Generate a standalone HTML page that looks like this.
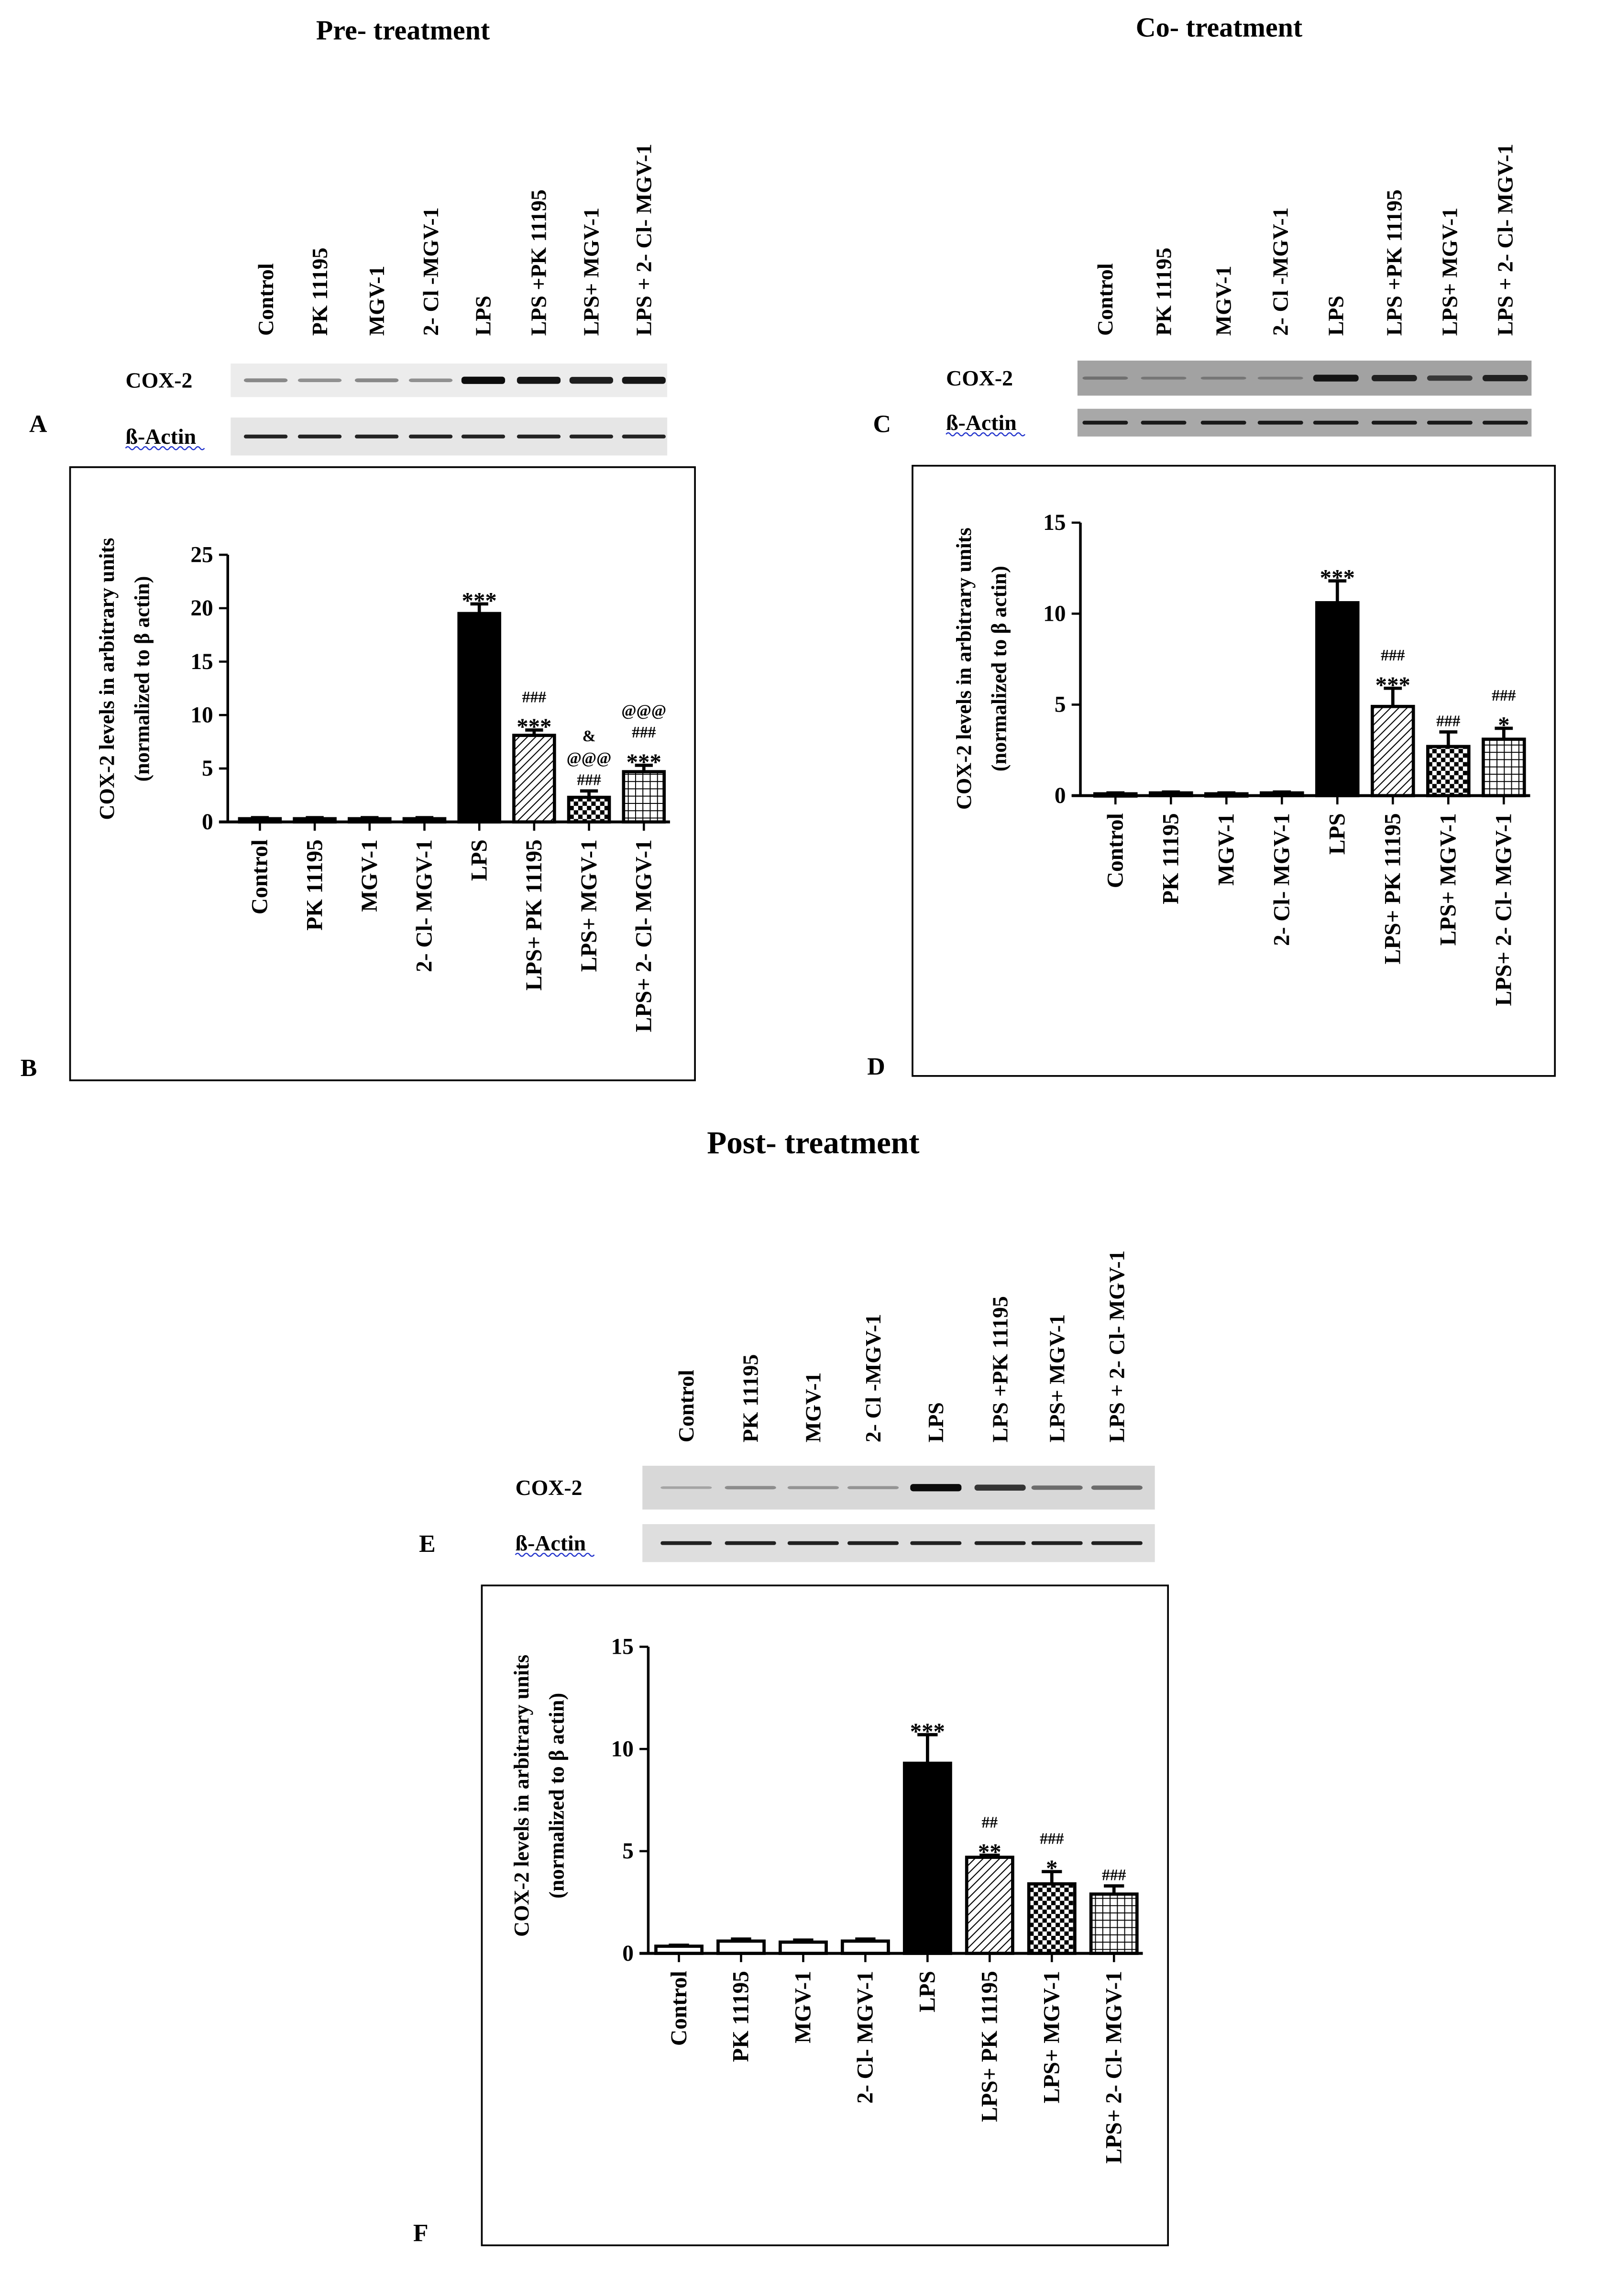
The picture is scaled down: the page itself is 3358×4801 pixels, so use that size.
<!DOCTYPE html>
<html><head><meta charset="utf-8"><style>
html,body{margin:0;padding:0;background:#fff;}
svg{display:block;font-family:"Liberation Serif",serif;font-weight:bold;}
</style></head><body>
<svg id="fig" width="3358" height="4801" viewBox="0 0 1100 1572.7" xmlns="http://www.w3.org/2000/svg">
<defs>
<pattern id="diag" width="4" height="4" patternUnits="userSpaceOnUse" patternTransform="rotate(45)"><rect width="4" height="4" fill="#fff"/><line x1="0" y1="0" x2="0" y2="4" stroke="#000" stroke-width="1.4"/></pattern>
<pattern id="check" width="6" height="6" patternUnits="userSpaceOnUse"><rect width="6" height="6" fill="#fff"/><rect width="3" height="3" fill="#000"/><rect x="3" y="3" width="3" height="3" fill="#000"/></pattern>
<pattern id="grid" width="5" height="5" patternUnits="userSpaceOnUse"><rect width="5" height="5" fill="#fff"/><path d="M0 0H5M0 0V5" stroke="#000" stroke-width="1.3"/></pattern>
</defs>
<g id="root"></g>
</svg>
<script>
// ----- data -----
const categories = ["Control","PK 11195","MGV-1","2- Cl- MGV-1","LPS","LPS+ PK 11195","LPS+ MGV-1","LPS+ 2- Cl- MGV-1"];
const blotLabels = ["Control","PK 11195","MGV-1","2- Cl -MGV-1","LPS","LPS +PK 11195","LPS+ MGV-1","LPS + 2- Cl- MGV-1"];
const preValues = [0.3,0.3,0.3,0.3,19.5,8.1,2.3,4.7];
const preErrors = [0.1,0.1,0.1,0.1,0.9,0.5,0.6,0.6];
const preTicks = [0,5,10,15,20,25];
const preAnnot = [[],[],[],[],["***"],["###","***"],["&","@@@","###"],["@@@","###","***"]];
const coValues = [0.1,0.15,0.1,0.15,10.6,4.9,2.7,3.1];
const coErrors = [0.05,0.05,0.05,0.05,1.2,1.0,0.8,0.6];
const coTicks = [0,5,10,15];
const coAnnot = [[],[],[],[],["***"],["###","***"],["###"],["###","*"]];
const postValues = [0.35,0.6,0.55,0.6,9.3,4.7,3.4,2.9];
const postErrors = [0.05,0.1,0.1,0.1,1.4,0.1,0.6,0.4];
const postTicks = [0,5,10,15];
const postAnnot = [[],[],[],[],["***"],["##","**"],["###","*"]];
postAnnot.push(["###"]);
const preCox = [0.3,0.25,0.3,0.25,1,0.95,0.9,0.95];
const coCox = [0.15,0.1,0.1,0.08,0.9,0.8,0.6,0.8];
const postCox = [0.05,0.2,0.15,0.15,1,0.75,0.4,0.4];

const NS="http://www.w3.org/2000/svg";
const root=document.getElementById('root');
const fills=["#fff","#fff","#fff","#fff","#000","url(#diag)","url(#check)","url(#grid)"];
function mk(tag,attrs,parent,text){const e=document.createElementNS(NS,tag);for(const k in attrs)e.setAttribute(k,attrs[k]);if(text!==undefined)e.textContent=text;(parent||root).appendChild(e);return e;}
function txt(x,y,s,size,parent,anchor,rot){const a={x:x,y:y,'font-size':size,'text-anchor':anchor||'middle'};if(rot)a.transform=`rotate(-90 ${x} ${y})`;return mk('text',a,parent,s);}

let t;
t=txt(276,27,"Pre- treatment",19);
t=txt(835,25,"Co- treatment",19);
t=txt(557,790,"Post- treatment",22);

function blot(o){
  const g=mk('g',{});
  
  
  o.lanes.forEach((lx,i)=>{const e=txt(lx+5,o.labY,blotLabels[i],15,g,'start',true);
    
    });
  mk('rect',{x:o.x,y:o.coxY,width:o.w,height:o.coxH,fill:o.bg},g);
  mk('rect',{x:o.x,y:o.actY,width:o.w,height:o.actH,fill:o.bg2},g);
  const lw=(o.w/8)*0.8;
  o.lanes.forEach((lx,i)=>{
    const c=o.cox[i];
    mk('rect',{x:lx-lw/2,y:o.coxY+o.coxH/2-0.8-c*1.7,width:lw,height:1.6+c*3.4,fill:'#000',opacity:0.2+0.75*c,rx:2},g);
    mk('rect',{x:lx-lw/2,y:o.actY+o.actH/2-1.3,width:lw,height:2.6,fill:'#000',opacity:0.85,rx:1.3},g);
  });
  let e=txt(o.lblX,o.coxY+o.coxH/2+5,"COX-2",15,g,'start');
  
  
  e=txt(o.lblX,o.actY+o.actH/2+5,"ß-Actin",15,g,'start');
  
  
  mk('path',{d:`M${o.lblX} ${o.actY+o.actH/2+8} q1.5 -2 3 0 t3 0 t3 0 t3 0 t3 0 t3 0 t3 0 t3 0 t3 0 t3 0 t3 0 t3 0 t3 0 t3 0 t3 0 t3 0 t3 0 t3 0`,fill:'none',stroke:'#2233cc','stroke-width':0.8},g);
  e=txt(o.letX,o.letY,o.letter,17,g,'start');
  
  
}
blot({name:'blot-pre',lanes:[182,219,258,295,331,369,405,441],labY:230,x:158,w:299,coxY:249,coxH:23,actY:286,actH:26,bg:'#ececec',bg2:'#e6e6e6',cox:preCox,lblX:86,letX:20,letY:296,letter:'A'});
blot({name:'blot-co',lanes:[757,797,838,877,915,955,993,1031],labY:230,x:738,w:311,coxY:247,coxH:24,actY:280,actH:19,bg:'#a2a2a2',bg2:'#a8a8a8',cox:coCox,lblX:648,letX:598,letY:296,letter:'C'});
blot({name:'blot-post',lanes:[470,514,557,598,641,685,724,765],labY:988,x:440,w:351,coxY:1004,coxH:30,actY:1044,actH:26,bg:'#d8d8d8',bg2:'#dedede',cox:postCox,lblX:353,letX:287,letY:1063,letter:'E'});

function chart(o){
  const g=mk('g',{});
  
  
  mk('rect',{x:o.box[0],y:o.box[1],width:o.box[2]-o.box[0],height:o.box[3]-o.box[1],fill:'none',stroke:'#000','stroke-width':1.2},g);
  const max=o.ticks[o.ticks.length-1];
  const ys=v=>o.y0-(v/max)*(o.y0-o.yTop);
  const step=(o.xLast-o.xFirst)/7;
  const xs=i=>o.xFirst+i*step;
  const bw=step*0.74;
  o.values.forEach((v,i)=>{
    const x=xs(i),top=ys(v+o.errors[i]);
    const eb=mk('path',{d:`M${x} ${ys(v)}V${top}M${x-bw*0.22} ${top}H${x+bw*0.22}`,stroke:'#000','stroke-width':2.2,fill:'none'},g);
    
    
    const r=mk('rect',{x:x-bw/2,y:ys(v),width:bw,height:Math.max(o.y0-ys(v),1.5),fill:fills[i],stroke:'#000','stroke-width':2.2},g);
    
    
    o.annot[i].forEach((s,k)=>{
      const n=o.annot[i].length;
      const isStar=s.indexOf('*')>=0;
      const e=txt(x,top-4-(n-1-k)*15+(isStar?7:0),s,isStar?16:11,g);
      
      
    });
    mk('line',{x1:x,y1:o.y0,x2:x,y2:o.y0+6,stroke:'#000','stroke-width':1.5},g);
    const lab=txt(x+5,o.y0+12,categories[i],15.5,g,'end',true);
    
    
  });
  const ya=mk('line',{x1:o.ax,y1:o.yTop,x2:o.ax,y2:o.y0,stroke:'#000','stroke-width':1.8},g);
  
  
  const xa=mk('line',{x1:o.ax-6,y1:o.y0,x2:xs(7)+bw/2+4,y2:o.y0,stroke:'#000','stroke-width':2},g);
  
  
  o.ticks.forEach(tv=>{
    mk('line',{x1:o.ax-6,y1:ys(tv),x2:o.ax,y2:ys(tv),stroke:'#000','stroke-width':1.5},g);
    const e=txt(o.ax-10,ys(tv)+5,String(tv),15.5,g,'end');
    
    
  });
  let e=txt(o.tx1,o.tcy,"COX-2 levels in arbitrary units",14.5,g,'middle',true);
  
  
  e=txt(o.tx1+24,o.tcy,"(normalized to β actin)",14.5,g,'middle',true);
  
  
  e=txt(o.letX,o.letY,o.letter,17,g,'start');
  
  
}
chart({name:'chart-pre',box:[48,320,476,740],ax:156,y0:563,yTop:380,xFirst:178,xLast:441,values:preValues,errors:preErrors,ticks:preTicks,annot:preAnnot,tx1:78,tcy:465,letX:14,letY:737,letter:'B'});
chart({name:'chart-co',box:[625,319,1065,737],ax:740,y0:545,yTop:358,xFirst:764,xLast:1030,values:coValues,errors:coErrors,ticks:coTicks,annot:coAnnot,tx1:665,tcy:458,letX:594,letY:736,letter:'D'});
chart({name:'chart-post',box:[330,1086,800,1538],ax:444,y0:1338,yTop:1128,xFirst:465,xLast:763,values:postValues,errors:postErrors,ticks:postTicks,annot:postAnnot,tx1:362,tcy:1230,letX:283,letY:1535,letter:'F'});
</script>
</body></html>
